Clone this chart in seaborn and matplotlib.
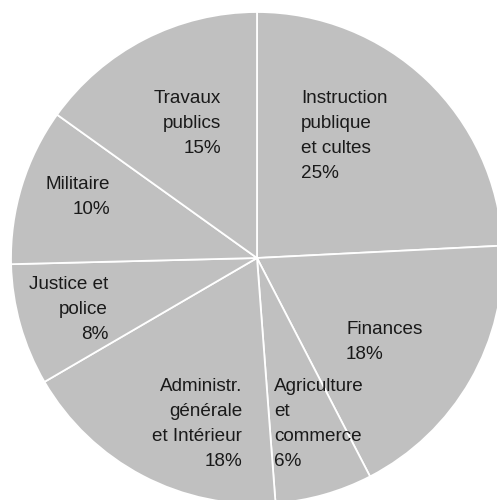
import matplotlib
matplotlib.use("Agg")
import matplotlib.pyplot as plt
import seaborn as sns

# Data (clockwise from top)
categories = ["Instruction\npublique\net cultes", "Finances", "Agriculture\net\ncommerce",
              "Administr.\ngénérale\net Intérieur", "Justice et\npolice", "Militaire",
              "Travaux\npublics"]
shares = [24.2, 18.2, 6.4, 17.8, 8.0, 10.3, 15.1]
pct_labels = ["25%", "18%", "6%", "18%", "8%", "10%", "15%"]

sns.set_style("white")
plt.rcParams["font.family"] = ["Liberation Sans", "DejaVu Sans"]

W, H = 497, 500
fig = plt.figure(figsize=(W / 100, H / 100), dpi=100)
ax = fig.add_axes([0, 0, 1, 1])
ax.pie(shares, startangle=90, counterclock=False, colors=["#c0c0c0"] * len(shares),
       radius=246, center=(257, H - 258),
       wedgeprops=dict(edgecolor="white", linewidth=1.3))
ax.set_xlim(0, W)
ax.set_ylim(0, H)
ax.set_aspect("equal")
ax.axis("off")

# label layout: (x, y_top in pixels from top, alignment)
layout = [(301, 90, "left"), (346, 321, "left"), (274, 378, "left"),
          (242, 378, "right"), (108, 276, "right"), (110, 176, "right"),
          (221, 90, "right")]
for cat, pct, (x, yt, ha) in zip(categories, pct_labels, layout):
    ax.text(x, H - yt, cat + "\n" + pct, ha=ha, va="top", multialignment=ha,
            fontsize=13.6, color="#1a1a1a", linespacing=1.62)

fig.savefig("out.png", dpi=100)
